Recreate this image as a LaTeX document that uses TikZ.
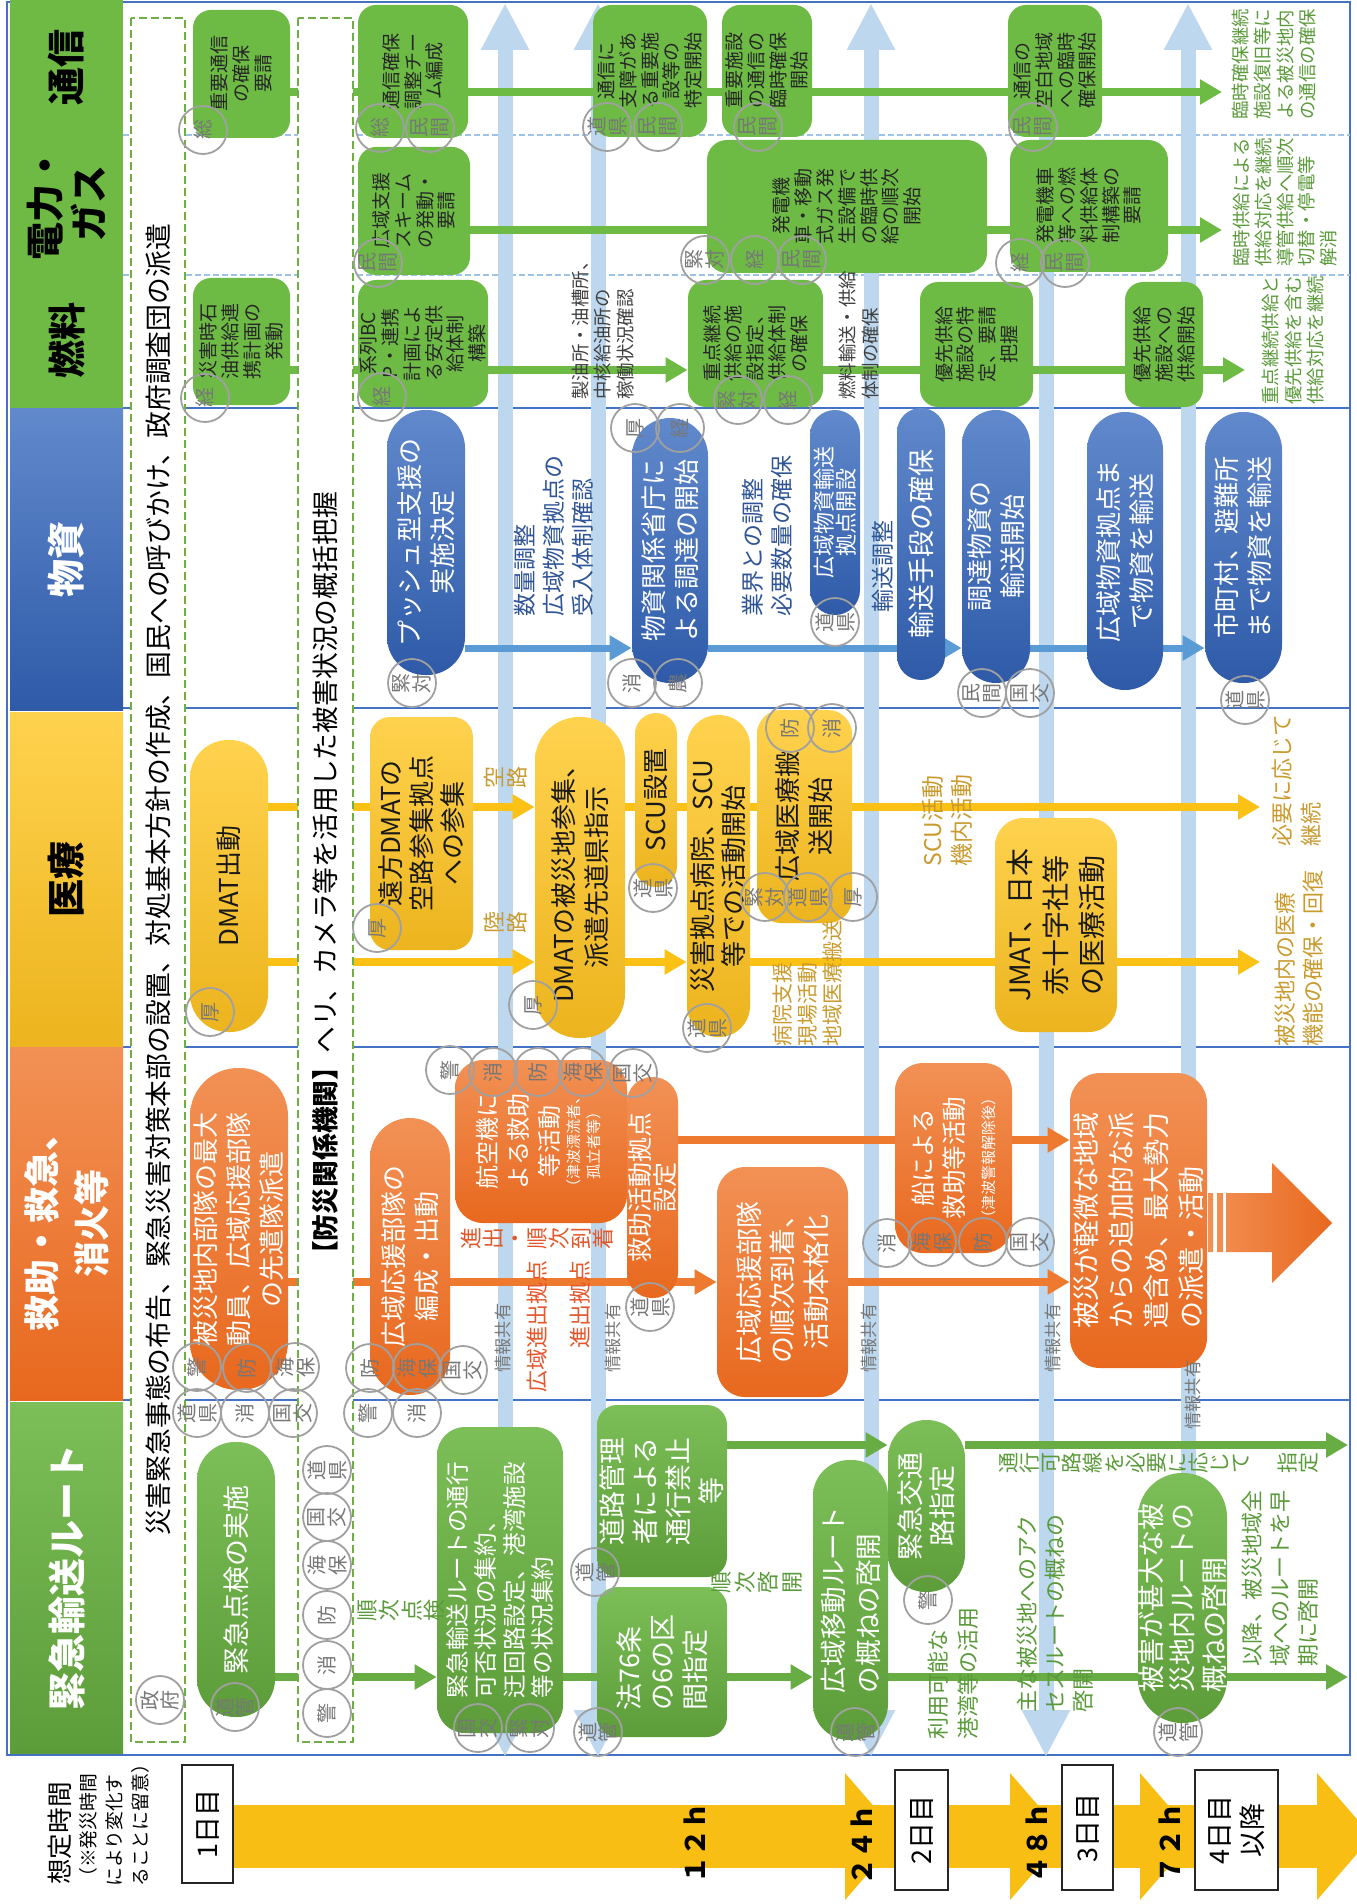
\documentclass[tikz,border=0pt]{standalone}
\usepackage{fontspec}
\setmainfont{Noto Sans CJK JP}
\usetikzlibrary{arrows.meta}

\definecolor{hdGreen}{HTML}{6FBA45}
\definecolor{topgreen}{HTML}{6DBB45}
\definecolor{rtL}{HTML}{7CBE57}
\definecolor{rtD}{HTML}{5C9D3A}
\definecolor{rtline}{HTML}{68AC44}
\definecolor{rtxt}{HTML}{5A9A3A}
\definecolor{darktxt}{HTML}{404040}
\definecolor{medY}{HTML}{FBC115}
\definecolor{medYL}{HTML}{FFD24E}
\definecolor{medYD}{HTML}{ECB41E}
\definecolor{medtxt}{HTML}{C99A2E}
\definecolor{resO}{HTML}{EE7A30}
\definecolor{resOL}{HTML}{F29155}
\definecolor{resOD}{HTML}{E8681E}
\definecolor{restxt}{HTML}{E2572B}
\definecolor{supB}{HTML}{5B9BD5}
\definecolor{supBL}{HTML}{6189CC}
\definecolor{supBD}{HTML}{2E5AA8}
\definecolor{suptxt}{HTML}{2F5597}
\definecolor{infoB}{HTML}{BDD7EE}
\definecolor{frameB}{HTML}{4472C4}
\definecolor{sepB}{HTML}{9DC3E6}
\definecolor{tagG}{HTML}{A0A0A0}
\definecolor{tagT}{HTML}{777777}
\definecolor{dashG}{HTML}{70AD47}
\definecolor{timeY}{HTML}{F9BE14}

\newcommand\ftop{\fontsize{9.5}{10.9}\selectfont}
\newcommand\fbig{\fontsize{13}{16.5}\selectfont}
\newcommand\ftag{\fontsize{10}{10.4}\selectfont}
\newcommand\fnote{\fontsize{9.2}{11.2}\selectfont}
\newcommand\fmid{\fontsize{11.5}{14.5}\selectfont}
\newcommand\fsmall{\fontsize{7.5}{10}\selectfont}
\newcommand\fhead{\bfseries\fontsize{19}{22}\selectfont}

% cell between the corners (x1,y1) and (x2,y2) of the page, text turned upward
\newcommand\drawcell[7]{%
  \node[#2, minimum width={(#6-#4)*0.5pt}, minimum height={(#5-#3)*0.5pt}] (#1) at ({(#3+#5)/2},{(#4+#6)/2}) {#7};}
\newcommand\badge[4]{\node[orgtag] (#1) at (#2,#3) {#4};}

\pgfdeclarelayer{bg}
\pgfdeclarelayer{mid}
\pgfdeclarelayer{dash}
\pgfsetlayers{bg,mid,dash,main}

\tikzset{
  cellbox/.style={rotate=90, inner sep=0pt, align=center, font=\fbig},
  headcell/.style={cellbox, font=\fhead, text=black},
  gbox/.style={cellbox, fill=topgreen, text=black!85, font=\ftop, rounded corners=9pt},
  ebox/.style={cellbox, top color=rtL, bottom color=rtD, text=white},
  bbox/.style={cellbox, top color=supBL, bottom color=supBD, text=white},
  ybox/.style={cellbox, top color=medYL, bottom color=medYD, text=black!90},
  obox/.style={cellbox, top color=resOL, bottom color=resOD, text=white},
  dashcell/.style={cellbox, draw=dashG, line width=1pt, dash pattern=on 4pt off 2pt, fill=white, font=\fontsize{13.4}{15}\selectfont},
  daycell/.style={cellbox, draw=black!85, line width=1.3pt, fill=white, font=\fontsize{13.5}{16.5}\selectfont},
  orgtag/.style={circle, rotate=90, draw=tagG, line width=0.9pt, minimum size=24pt, inner sep=0pt, align=center, text=tagT, font=\ftag},
  annot/.style={rotate=90, inner sep=0pt, align=left, anchor=west},
  vannot/.style={rotate=90, inner sep=0pt, align=center},
  infolbl/.style={rotate=90, inner sep=0pt, text=tagT, font=\fontsize{8.6}{9}\selectfont},
  hourlbl/.style={rotate=90, inner sep=0pt, font=\bfseries\fontsize{13.5}{14}\selectfont},
  gline/.style={draw=topgreen, line width=4pt},
  eline/.style={draw=rtline, line width=4pt},
  yline/.style={draw=medY, line width=4pt},
  oline/.style={draw=resO, line width=4pt},
  bline/.style={draw=supB, line width=3.5pt},
  ahead/.style={arrows={-Triangle[width=12pt,length=11pt]}},
  infoarrow/.style={draw=infoB, line width=7.5pt},
  ihead/.style={arrows={-Triangle[width=22.5pt,length=23.5pt]}},
  iboth/.style={arrows={Triangle[width=22.5pt,length=23.5pt]-Triangle[width=22.5pt,length=23.5pt]}},
}

\begin{document}
\begin{tikzpicture}[x=0.5pt,y=-0.5pt]
\useasboundingbox (0,0) rectangle (1356,1904);

% row headings
\drawcell{hTel}{headcell, fill=hdGreen}{10}{0}{123}{135}{通信}
\drawcell{hPow}{headcell, fill=hdGreen}{10}{135}{123}{273}{電力・\\ガス}
\drawcell{hFuel}{headcell, fill=hdGreen}{10}{273}{123}{408}{燃料}
\drawcell{hSup}{headcell, top color=supBL, bottom color=supBD, text=white}{10}{408}{123}{710}{物資}
\drawcell{hMed}{headcell, top color=medYL, bottom color=medYD}{10}{712}{123}{1047}{医療}
\drawcell{hRes}{headcell, top color=resOL, bottom color=resOD, text=white, font=\bfseries\fontsize{18}{25}\selectfont}{10}{1047}{123}{1400}{救助・救急、\\消火等}
\drawcell{hRt}{headcell, top color=rtL, bottom color=rtD, text=white}{10}{1402}{123}{1753}{緊急輸送ルート}

\begin{pgfonlayer}{bg}
  \draw[frameB, line width=0.7pt] (7,2) rectangle (1350,1755);% table frame
  \foreach \yy in {408,708,1047,1400}
    \draw[frameB, line width=0.6pt] (123,\yy) -- (1350,\yy);
  \foreach \yy in {135,275}
    \draw[sepB, line width=0.6pt, dash pattern=on 3pt off 1.5pt] (123,\yy) -- (1350,\yy);
  % information sharing
  \coordinate (i1a) at (505,1757);  \coordinate (i1b) at (505,3);
  \coordinate (i2a) at (598,1757);  \coordinate (i2b) at (598,3);
  \coordinate (i3a) at (871,1757);  \coordinate (i3b) at (871,3);
  \coordinate (i4a) at (1046,5);    \coordinate (i4b) at (1046,1757);
  \coordinate (i5a) at (1188,1480); \coordinate (i5b) at (1188,3);
  \draw[infoarrow, iboth] (i1a) -- (i1b);
  \draw[infoarrow, iboth] (i2a) -- (i2b);
  \draw[infoarrow, iboth] (i3a) -- (i3b);
  \draw[infoarrow, ihead] (i4a) -- (i4b);
  \draw[infoarrow, ihead] (i5a) -- (i5b);
\end{pgfonlayer}

\begin{pgfonlayer}{dash}
  \drawcell{govBox}{dashcell}{131}{18}{185}{1742}{災害緊急事態の布告、緊急災害対策本部の設置、対処基本方針の作成、国民への呼びかけ、政府調査団の派遣}
  \drawcell{orgBox}{dashcell}{298}{18}{353}{1742}{{\bfseries 【防災関係機関】}ヘリ、カメラ等を活用した被害状況の概括把握}
\end{pgfonlayer}

% 通信
\drawcell{tel1}{gbox}{193}{10}{290}{138}{重要通信\\の確保\\要請}
\drawcell{tel2}{gbox}{358}{5}{468}{138}{通信確保\\調整チー\\ム編成}
\drawcell{tel3}{gbox}{593}{5}{707}{137}{通信に\\支障があ\\る重要施\\設等の\\特定開始}
\drawcell{tel4}{gbox}{722}{5}{812}{137}{重要施設\\の通信の\\臨時確保\\開始}
\drawcell{tel5}{gbox}{1008}{5}{1102}{137}{通信の\\空白地域\\への臨時\\確保開始}
% 電力・ガス
\drawcell{pow1}{gbox}{358}{147}{470}{275}{広域支援\\スキーム\\の発動・\\要請}
\drawcell{pow2}{gbox, rounded corners=10pt}{707}{140}{987}{273}{発電機\\車・移動\\式ガス発\\生設備で\\の臨時供\\給の順次\\開始}
\drawcell{pow3}{gbox, rounded corners=10pt}{1010}{140}{1168}{272}{発電機車\\等への燃\\料供給体\\制構築の\\要請}
% 燃料
\drawcell{fuel1}{gbox}{193}{278}{290}{405}{災害時石\\油供給連\\携計画の\\発動}
\drawcell{fuel2}{gbox}{358}{280}{488}{407}{系列BC\\P・連携\\計画によ\\る安定供\\給体制\\構築}
\drawcell{fuel3}{gbox}{688}{280}{823}{407}{重点継続\\供給の施\\設指定、\\供給体制\\の確保}
\drawcell{fuel4}{gbox}{920}{282}{1033}{407}{優先供給\\施設の特\\定、要請\\把握}
\drawcell{fuel5}{gbox}{1125}{282}{1203}{407}{優先供給\\施設への\\供給開始}
% 物資
\drawcell{sup1}{bbox, rounded corners=19pt}{387}{410}{465}{675}{プッシュ型支援の\\実施決定}
\drawcell{sup2}{bbox, rounded corners=19pt}{632}{418}{708}{683}{物資関係省庁に\\よる調達の開始}
\drawcell{sup3}{bbox, rounded corners=12pt, font=\fontsize{13.5}{16}\selectfont}{897}{408}{945}{680}{輸送手段の確保}
\drawcell{sup4}{bbox, rounded corners=17pt}{962}{410}{1030}{683}{調達物資の\\輸送開始}
\drawcell{sup5}{bbox, rounded corners=12.5pt, font=\fontsize{11}{11}\selectfont}{810}{410}{860}{615}{広域物資輸送\\拠点開設}
\drawcell{sup6}{bbox, rounded corners=19pt}{1087}{412}{1163}{690}{広域物資拠点ま\\で物資を輸送}
\drawcell{sup7}{bbox, rounded corners=19pt}{1205}{412}{1282}{683}{市町村、避難所\\まで物資を輸送}
% 医療
\drawcell{med1}{ybox, rounded corners=19pt}{190}{740}{268}{1032}{DMAT出動}
\drawcell{med2}{ybox, rounded corners=10pt, font=\fontsize{13}{15.5}\selectfont}{370}{717}{473}{950}{遠方DMATの\\空路参集拠点\\への参集}
\drawcell{med3}{ybox, rounded corners=22pt}{535}{717}{625}{1038}{DMATの被災地参集、\\派遣先道県指示}
\drawcell{med4}{ybox, rounded corners=10.5pt}{635}{713}{677}{887}{SCU設置}
\drawcell{med5}{ybox, rounded corners=15.5pt, font=\fontsize{13}{15.5}\selectfont}{687}{715}{750}{1037}{災害拠点病院、SCU\\等での活動開始}
\drawcell{med6}{ybox, rounded corners=12pt}{757}{710}{852}{923}{広域医療搬\\送開始}
\drawcell{med7}{ybox, rounded corners=14pt, font=\fontsize{14}{18}\selectfont}{995}{818}{1117}{1032}{JMAT、日本\\赤十字社等\\の医療活動}
% 救助・救急、消火等
\drawcell{res1}{obox, rounded corners=24pt}{190}{1068}{288}{1390}{被災地内部隊の最大\\動員、広域応援部隊\\の先遣隊派遣}
\drawcell{res2}{obox, rounded corners=20pt}{370}{1118}{450}{1395}{広域応援部隊の\\編成・出動}
\drawcell{res3}{obox, rounded corners=14pt, font=\fontsize{12}{15.5}\selectfont}{455}{1060}{627}{1223}{航空機に\\よる救助\\等活動\\{\fsmall\begin{tabular}{@{}c@{}}（津波漂流者、\\孤立者等）\end{tabular}}}
\drawcell{res4}{obox, rounded corners=12.5pt, font=\fontsize{12.5}{12.8}\selectfont}{627}{1077}{678}{1298}{救助活動拠点\\設定}
\drawcell{res5}{obox, rounded corners=14pt, font=\fontsize{13.5}{16.8}\selectfont}{717}{1167}{848}{1397}{広域応援部隊\\の順次到着、\\活動本格化}
\drawcell{res6}{obox, rounded corners=14pt, font=\fontsize{12.3}{15.5}\selectfont}{895}{1063}{1012}{1253}{船による\\救助等活動\\{\fsmall（津波警報解除後）}}
\drawcell{res8}{obox, rounded corners=15pt, font=\fontsize{13.5}{17.5}\selectfont, align=left}{1070}{1073}{1207}{1368}{被災が軽微な地域\\からの追加的な派\\遣含め、最大勢力\\の派遣・活動}
% 緊急輸送ルート
\drawcell{rt1}{ebox, rounded corners=19pt, font=\fontsize{13.5}{16}\selectfont}{197}{1442}{275}{1717}{緊急点検の実施}
\drawcell{rt2}{ebox, rounded corners=14pt, font=\fontsize{11.8}{14.2}\selectfont, align=left}{437}{1427}{563}{1733}{緊急輸送ルートの通行\\可否状況の集約、\\迂回路設定、港湾施設\\等の状況集約}
\drawcell{rt3}{ebox, rounded corners=10pt, font=\fontsize{13.5}{16.5}\selectfont, align=left}{597}{1587}{727}{1737}{法76条\\の6の区\\間指定}
\drawcell{rt4}{ebox, rounded corners=10pt, font=\fontsize{13.5}{16.5}\selectfont}{597}{1405}{727}{1577}{道路管理\\者による\\通行禁止\\等}
\drawcell{rt5}{ebox, rounded corners=18pt, font=\fontsize{13.3}{17.5}\selectfont, align=left}{813}{1460}{888}{1740}{広域移動ルート\\の概ねの啓開}
\drawcell{rt6}{ebox, rounded corners=19pt, font=\fontsize{13.5}{16}\selectfont}{888}{1420}{965}{1592}{緊急交通\\路指定}
\drawcell{rt9}{ebox, rounded corners=22pt, font=\fontsize{13.5}{15.8}\selectfont, align=left}{1138}{1473}{1227}{1723}{被害が甚大な被\\災地内ルートの\\概ねの啓開}

\begin{pgfonlayer}{mid}
  \coordinate (telEnd) at (1222,92);
  \coordinate (powEnd) at (1222,230);
  \coordinate (fuelEnd) at (1245,370);
  \coordinate (medEndA) at (1260,807);
  \coordinate (medEndB) at (1260,962);
  \coordinate (rtEndA) at (1348,1677);
  \coordinate (rtEndB) at (1348,1445);
  % 通信, 電力・ガス, 燃料
  \draw[gline] (tel1.center |- 0,92) -- (tel2.center |- 0,92) -- (tel3.center |- 0,92) -- (tel4.center |- 0,92) -- (tel5.center |- 0,92);
  \draw[gline, ahead] (tel5.south |- 0,92) -- (telEnd);
  \draw[gline] (pow1.center |- 0,230) -- (pow2.center |- 0,230) -- (pow3.center |- 0,230);
  \draw[gline, ahead] (pow3.south |- 0,230) -- (powEnd);
  \draw[gline] (fuel1.center |- 0,370) -- (fuel2.center |- 0,370);
  \draw[gline, ahead] (fuel2.south |- 0,370) -- (fuel3.north |- 0,370);
  \draw[gline] (fuel3.center |- 0,370) -- (fuel4.center |- 0,370) -- (fuel5.center |- 0,370);
  \draw[gline, ahead] (fuel5.south |- 0,370) -- (fuelEnd);
  % 物資
  \draw[bline, ahead] (sup1.south |- 0,648) -- (sup2.north |- 0,648);
  \draw[bline, ahead] (sup2.south |- 0,648) -- (sup4.north |- 0,648);
  \draw[bline] (sup4.center |- 0,648) -- (sup6.center |- 0,648);
  \draw[bline, ahead] (sup6.south |- 0,648) -- (sup7.north |- 0,648);
  % 医療
  \draw[yline] (med1.center |- 0,807) -- (med2.center |- 0,807);
  \draw[yline, ahead] (med2.south |- 0,807) -- (med3.north |- 0,807);
  \draw[yline] (med3.center |- 0,807) -- (med4.center |- 0,807) -- (med6.center |- 0,807);
  \draw[yline, ahead] (med6.south |- 0,807) -- (medEndA);
  \draw[yline, ahead] (med1.south |- 0,962) -- (med3.north |- 0,962);
  \draw[yline, ahead] (med3.south |- 0,962) -- (med5.north |- 0,962);
  \draw[yline] (med5.center |- 0,962) -- (med7.center |- 0,962);
  \draw[yline, ahead] (med7.south |- 0,962) -- (medEndB);
  % 救助・救急、消火等
  \draw[oline] (res1.center |- 0,1282) -- (res2.center |- 0,1282);
  \draw[oline, ahead] (res2.south |- 0,1282) -- (res5.north |- 0,1282);
  \draw[oline, ahead] (res5.south |- 0,1282) -- (res8.north |- 0,1282);
  \draw[oline] (res4.center |- 0,1140) -- (res6.center |- 0,1140);
  \draw[oline, ahead] (res6.south |- 0,1140) -- (res8.north |- 0,1140);
  % 緊急輸送ルート
  \draw[eline, ahead] (rt1.south |- 0,1677) -- (rt2.north |- 0,1677);
  \draw[eline] (rt2.center |- 0,1677) -- (rt3.center |- 0,1677);
  \draw[eline, ahead] (rt3.south |- 0,1677) -- (rt5.north |- 0,1677);
  \draw[eline, ahead] (rt5.south |- 0,1677) -- (rtEndA);
  \draw[eline, ahead] (rt4.south |- 0,1445) -- (rt6.north |- 0,1445);
  \draw[eline, ahead] (rt6.south |- 0,1445) -- (rtEndB);
\end{pgfonlayer}

% agencies
\badge{cT1}{203}{130}{総}
\badge{cT2a}{380}{128}{総}
\badge{cT2b}{430}{128}{民\\間}
\badge{cT3a}{607}{127}{道\\県}
\badge{cT3b}{658}{127}{民\\間}
\badge{cT4}{758}{127}{民\\間}
\badge{cT5}{1033}{127}{民\\間}
\badge{cP1}{378}{263}{民\\間}
\badge{cP2a}{705}{260}{緊\\対}
\badge{cP2b}{755}{260}{経}
\badge{cP2c}{802}{260}{民\\間}
\badge{cP3a}{1020}{263}{経}
\badge{cP3b}{1065}{263}{民\\間}
\badge{cF1}{205}{398}{経}
\badge{cF2}{382}{397}{経}
\badge{cF3a}{738}{400}{緊\\対}
\badge{cF3b}{788}{400}{経}
\badge{cS1}{412}{683}{緊\\対}
\badge{cS2a}{635}{428}{厚}
\badge{cS2b}{680}{428}{経}
\badge{cS2c}{632}{683}{消}
\badge{cS2d}{678}{683}{農}
\badge{cS5}{835}{622}{道\\県}
\badge{cS4a}{982}{693}{民\\間}
\badge{cS4b}{1030}{693}{国\\交}
\badge{cS7}{1245}{700}{道\\県}
\badge{cM1}{210}{1012}{厚}
\badge{cM2}{377}{928}{厚}
\badge{cM3}{533}{1005}{厚}
\badge{cM4}{653}{888}{道\\県}
\badge{cM5}{707}{1028}{道\\県}
\badge{cM6a}{790}{728}{防}
\badge{cM6b}{832}{728}{消}
\badge{cM6c}{765}{897}{緊\\対}
\badge{cM6d}{808}{897}{道\\県}
\badge{cM6e}{853}{897}{厚}
\badge{cR1a}{197}{1367}{警}
\badge{cR1b}{247}{1368}{防}
\badge{cR1c}{295}{1367}{海\\保}
\badge{cR1d}{197}{1413}{道\\県}
\badge{cR1e}{245}{1413}{消}
\badge{cR1f}{293}{1413}{国\\交}
\badge{cR2a}{370}{1368}{防}
\badge{cR2b}{417}{1368}{海\\保}
\badge{cR2c}{463}{1370}{国\\交}
\badge{cR2d}{368}{1413}{警}
\badge{cR2e}{417}{1413}{消}
\badge{cR3a}{450}{1070}{警}
\badge{cR3b}{493}{1072}{消}
\badge{cR3c}{538}{1072}{防}
\badge{cR3d}{583}{1072}{海\\保}
\badge{cR3e}{633}{1073}{国\\交}
\badge{cR4}{650}{1307}{道\\県}
\badge{cR6a}{887}{1243}{消}
\badge{cR6b}{932}{1242}{海\\保}
\badge{cR6c}{983}{1242}{防}
\badge{cR6d}{1030}{1242}{国\\交}
\badge{cGov}{160}{1700}{政\\府}
\badge{cE1}{235}{1707}{道\\管}
\badge{cO1}{327}{1713}{警}
\badge{cO2}{327}{1665}{消}
\badge{cO3}{327}{1615}{防}
\badge{cO4}{327}{1565}{海\\保}
\badge{cO5}{327}{1517}{国\\交}
\badge{cO6}{327}{1470}{道\\県}
\badge{cE2a}{478}{1728}{国\\交}
\badge{cE2b}{530}{1728}{緊\\対}
\badge{cE3}{598}{1732}{道\\管}
\badge{cE4}{595}{1572}{道\\管}
\badge{cE5}{855}{1732}{道\\管}
\badge{cE6}{928}{1600}{警}
\badge{cE9}{1178}{1732}{道\\管}

% notes along the rows
\node[annot, text=rtxt, font=\fnote] (telOut) at (1274,120) {臨時確保継続\\施設復旧等に\\よる被災地内\\の通信の確保};
\node[annot, text=rtxt, font=\fontsize{9.2}{10.8}\selectfont] (powOut) at (1285,267) {臨時供給による\\供給対応を継続\\導管供給へ順次\\切替・停電等\\解消};
\node[annot, text=rtxt, font=\fnote] (fuelOut) at (1293,405) {重点継続供給と\\優先供給を含む\\供給対応を継続};
\node[annot, text=darktxt, font=\fnote] (fuelN1) at (603,400) {製油所・油槽所、\\中核給油所の\\稼働状況確認};
\node[annot, text=darktxt, font=\fnote] (fuelN2) at (859,400) {燃料輸送・供給\\体制の確保};
\node[annot, text=suptxt, font=\fmid] (supN1) at (554,617) {数量調整\\広域物資拠点の\\受入体制確認};
\node[annot, text=suptxt, font=\fmid] (supN2) at (767,617) {業界との調整\\必要数量の確保};
\node[annot, text=suptxt, font=\fmid] (supN3) at (883,613) {輸送調整};
\node[vannot, text=medtxt, font=\fontsize{11}{11.5}\selectfont] (medN1) at (506,777) {空\\路};
\node[vannot, text=medtxt, font=\fontsize{11}{11.5}\selectfont] (medN2) at (506,922) {陸\\路};
\node[annot, text=medtxt, font=\fmid] (medN3) at (947,867) {SCU活動\\機内活動};
\node[annot, text=medtxt, font=\fontsize{11}{14.5}\selectfont] (medOutA) at (1297,847) {必要に応じて\\継続};
\node[annot, text=medtxt, font=\fontsize{10.5}{12.5}\selectfont] (medN4) at (808,1047) {病院支援\\現場活動\\地域医療搬送};
\node[annot, text=medtxt, font=\fontsize{11}{14}\selectfont] (medOutB) at (1299,1047) {被災地内の医療\\機能の確保・回復};
\node[vannot, text=restxt, font=\fontsize{11}{11}\selectfont] (resN1) at (537,1238) {進\\出\\・\\順\\次\\到\\着};
\node[annot, anchor=east, text=restxt, font=\fontsize{11}{13}\selectfont] (resN2) at (537,1260) {広域進出拠点};
\node[annot, anchor=east, text=restxt, font=\fontsize{11}{13}\selectfont] (resN3) at (580,1260) {進出拠点};
\node[infolbl] (inf1) at (503,1338) {情報共有};
\node[infolbl] (inf2) at (613,1338) {情報共有};
\node[infolbl] (inf3) at (869,1338) {情報共有};
\node[infolbl] (inf4) at (1053,1338) {情報共有};
\node[infolbl] (inf5) at (1193,1395) {情報共有};
\node[vannot, text=rtxt, font=\fontsize{11}{11.3}\selectfont] (rtN1) at (401,1610) {順\\次\\点\\検};
\node[vannot, text=rtxt, font=\fontsize{11}{11.8}\selectfont] (rtN2) at (757,1582) {順\\次\\啓\\開};
\node[vannot, text=rtxt, font=\fontsize{10.5}{10.55}\selectfont] (rtN3) at (1159,1463) {通\\行\\可\\路\\線\\を\\必\\要\\に\\応\\じ\\て\\[13pt]指\\定};
\node[annot, text=rtxt, font=\fontsize{11}{15}\selectfont] (rtN4) at (953,1740) {利用可能な\\港湾等の活用};
\node[annot, text=rtxt, font=\fontsize{11}{14}\selectfont] (rtN5) at (1055,1713) {主な被災地へのアク\\セスルートの概ねの\\啓開};
\node[annot, text=rtxt, font=\fontsize{11}{14}\selectfont] (rtN6) at (1280,1667) {以降、被災地域全\\域へのルートを早\\期に啓開};

% big arrow after the rescue row
\shade[left color=resOL, right color=resOD] (1208,1193) rectangle (1213,1252) (1217,1193) rectangle (1223,1252)
  (1226,1193) -- (1272,1193) -- (1272,1163) -- (1332,1223) -- (1272,1283) -- (1272,1252) -- (1226,1252) -- cycle;

% time axis
\node[annot, font=\fontsize{12.8}{14}\selectfont] (tHead) at (60,1885) {想定時間};
\node[annot, font=\fontsize{9.4}{13}\selectfont] (tHint) at (114,1887) {（※発災時間\\により変化す\\ることに留意）};
\fill[timeY] (233,1805) rectangle (1320,1868);
\foreach \b in {845,1010,1140,1317}
  \fill[timeY] (\b,1773) -- ({\b+55},1836.5) -- (\b,1900) -- cycle;
\drawcell{day1}{daycell}{182}{1765}{233}{1883}{1日目}
\drawcell{day2}{daycell}{895}{1770}{948}{1890}{2日目}
\drawcell{day3}{daycell}{1062}{1765}{1113}{1890}{3日目}
\drawcell{day4}{daycell}{1195}{1770}{1278}{1890}{4日目\\以降}
\node[hourlbl] (h12) at (695,1843) {１２ｈ};
\node[hourlbl] (h24) at (862,1845) {２４ｈ};
\node[hourlbl] (h48) at (1037,1843) {４８ｈ};
\node[hourlbl] (h72) at (1170,1843) {７２ｈ};
\end{tikzpicture}
\end{document}
